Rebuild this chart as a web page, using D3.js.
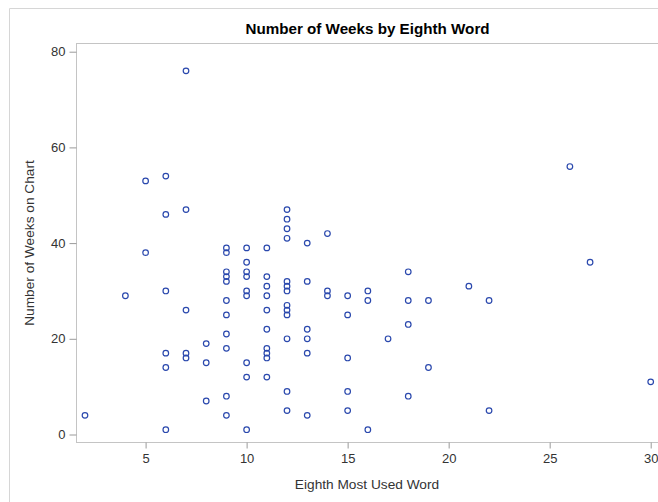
<!DOCTYPE html>
<html>
<head>
<meta charset="utf-8">
<script src="https://cdn.jsdelivr.net/npm/d3@7"></script>
<style>
  html, body { margin: 0; padding: 0; background: #fff; }
  svg { display: block; font-family: "Liberation Sans", Arial, sans-serif; }
</style>
</head>
<body>
<svg id="chart" width="658" height="502"></svg>
<script>
// Eighth most used word (x) vs. number of weeks on chart (y)
const eighthWord = [
  2, 4, 5, 5, 6, 6, 6, 6, 6, 6, 7, 7, 7, 7, 7, 8, 8, 8,
  9, 9, 9, 9, 9, 9, 9, 9, 9, 9, 9,
  10, 10, 10, 10, 10, 10, 10, 10, 10,
  11, 11, 11, 11, 11, 11, 11, 11, 11, 11,
  12, 12, 12, 12, 12, 12, 12, 12, 12, 12, 12, 12, 12,
  13, 13, 13, 13, 13, 13,
  14, 14, 14, 15, 15, 15, 15, 15, 16, 16, 16, 17,
  18, 18, 18, 18, 19, 19, 21, 22, 22, 26, 27, 30
];
const weeksOnChart = [
  4, 29, 53, 38, 54, 46, 30, 17, 14, 1, 76, 47, 26, 17, 16, 19, 15, 7,
  39, 38, 34, 33, 32, 28, 25, 21, 18, 8, 4,
  39, 36, 34, 33, 30, 29, 15, 12, 1,
  39, 33, 31, 29, 26, 22, 18, 17, 16, 12,
  47, 45, 43, 41, 32, 31, 30, 27, 26, 25, 20, 9, 5,
  40, 32, 22, 20, 17, 4,
  42, 30, 29, 29, 25, 16, 9, 5, 30, 28, 1, 20,
  34, 28, 23, 8, 28, 14, 31, 28, 5, 56, 36, 11
];
const xTicks = [5, 10, 15, 20, 25, 30];
const yTicks = [0, 20, 40, 60, 80];

const titleText = "Number of Weeks by Eighth Word";
const xLabel = "Eighth Most Used Word";
const yLabel = "Number of Weeks on Chart";

const points = eighthWord.map((x, i) => ({ x, y: weeksOnChart[i] }));

const svg = d3.select("#chart");
const frame = { left: 76.5, top: 43.5, right: 659, bottom: 442.5 };

const x = d3.scaleLinear().domain([5, 30]).range([145.6, 650.7]);
const y = d3.scaleLinear().domain([0, 80]).range([434.5, 51.7]);

const gridGray = "#c4c4c4";
const textGray = "#333333";
const tickFont = "13px";
const labelFont = "13.7px";

// outer graph border (left and top edges)
svg.append("path")
  .attr("d", "M9.5,502 V8.5 H658")
  .attr("fill", "none")
  .attr("stroke", "#d6d6d6")
  .attr("stroke-width", 1);

// plot frame
svg.append("rect")
  .attr("x", frame.left).attr("y", frame.top)
  .attr("width", frame.right - frame.left)
  .attr("height", frame.bottom - frame.top)
  .attr("fill", "none")
  .attr("stroke", gridGray)
  .attr("stroke-width", 1);

// x axis
const xAxis = svg.append("g")
  .attr("transform", `translate(0,${frame.bottom})`)
  .call(d3.axisBottom(x).tickValues(xTicks).tickSize(6).tickPadding(5).tickSizeOuter(0));
xAxis.select(".domain").remove();
xAxis.selectAll(".tick line").attr("stroke", "#9a9a9a");
xAxis.selectAll(".tick text")
  .attr("fill", textGray)
  .style("font-size", tickFont)
  .style("font-family", "'Liberation Sans', Arial, sans-serif");

// y axis
const yAxis = svg.append("g")
  .attr("transform", `translate(${frame.left},0)`)
  .call(d3.axisLeft(y).tickValues(yTicks).tickSize(7).tickPadding(4).tickSizeOuter(0));
yAxis.select(".domain").remove();
yAxis.selectAll(".tick line").attr("stroke", "#9a9a9a");
yAxis.selectAll(".tick text")
  .attr("fill", textGray)
  .style("font-size", tickFont)
  .style("font-family", "'Liberation Sans', Arial, sans-serif");

// title
svg.append("text")
  .attr("x", 367.5).attr("y", 33.5)
  .attr("text-anchor", "middle")
  .style("font-size", "15.2px")
  .style("font-weight", "bold")
  .attr("fill", "#000")
  .text(titleText);

// axis labels
svg.append("text")
  .attr("x", 367).attr("y", 489)
  .attr("text-anchor", "middle")
  .style("font-size", labelFont)
  .attr("fill", textGray)
  .text(xLabel);

svg.append("text")
  .attr("transform", "translate(34,243) rotate(-90)")
  .attr("text-anchor", "middle")
  .style("font-size", labelFont)
  .attr("fill", textGray)
  .text(yLabel);

// markers
svg.append("g")
  .selectAll("circle")
  .data(points)
  .join("circle")
  .attr("cx", d => x(d.x))
  .attr("cy", d => y(d.y))
  .attr("r", 2.8)
  .attr("fill", "none")
  .attr("stroke", "#2a48ad")
  .attr("stroke-width", 1.2);
</script>
</body>
</html>
